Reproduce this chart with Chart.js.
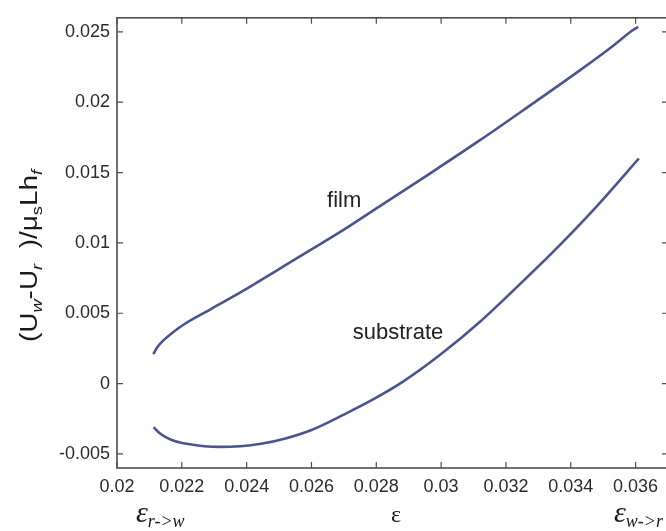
<!DOCTYPE html>
<html>
<head>
<meta charset="utf-8">
<script src="https://cdn.jsdelivr.net/npm/chart.js@4.4.0/dist/chart.umd.min.js"></script>
<style>
  html, body { margin: 0; padding: 0; background: #fff; overflow: hidden; }
  #wrap { width: 680px; height: 531px; }
</style>
</head>
<body>
<div id="wrap"><canvas id="plot"></canvas></div>
<script>
// values
const filmX = [0.02112, 0.02125, 0.0214, 0.0217, 0.02206, 0.0229, 0.0239, 0.0249, 0.0259, 0.0269, 0.0281, 0.0297, 0.0312, 0.0327, 0.0343, 0.0353, 0.0359, 0.03608]
const filmY = [0.0021, 0.0026, 0.0030, 0.0036, 0.0042, 0.0053, 0.0066, 0.0080, 0.0094, 0.0108, 0.0126, 0.0150, 0.0173, 0.0197, 0.0223, 0.0240, 0.0251, 0.02535]

const substrateX = [0.02113, 0.0213, 0.0215, 0.0218, 0.0222, 0.0227, 0.0232, 0.0238, 0.0244, 0.0252, 0.0260, 0.0270, 0.0280, 0.0288, 0.0300, 0.0312, 0.0324, 0.0336, 0.0348, 0.0361]
const substrateY = [-0.0031, -0.0035, -0.0038, -0.0041, -0.0043, -0.00445, -0.0045, -0.00445, -0.0043, -0.0039, -0.0033, -0.0022, -0.0010, 0.0001, 0.0021, 0.0044, 0.0070, 0.0097, 0.0126, 0.0160]

const xTicks = [0.02, 0.022, 0.024, 0.026, 0.028, 0.03, 0.032, 0.034, 0.036]
const xTickLabels = ['0.02', '0.022', '0.024', '0.026', '0.028', '0.03', '0.032', '0.034', '0.036']
const yTicks = [-0.005, 0, 0.005, 0.01, 0.015, 0.02, 0.025]
const yTickLabels = ['-0.005', '0', '0.005', '0.01', '0.015', '0.02', '0.025']

const lineColor = '#4a5590'
const axisColor = '#4d4d4d'
const textColor = '#2b2b2b'

function toPoints(xs, ys) {
    return xs.map((x, i) => ({ x: x, y: ys[i] }))
}

// white page behind the chart
const background = {
    id: 'background',
    beforeDraw(chart) {
        const ctx = chart.ctx
        ctx.save()
        ctx.fillStyle = '#fff'
        ctx.fillRect(0, 0, chart.width, chart.height)
        ctx.restore()
    }
}

// matlab style box with inward ticks on all four sides
const boxTicks = {
    id: 'boxTicks',
    afterDatasetsDraw(chart) {
        const ctx = chart.ctx
        const a = chart.chartArea
        const xs = chart.scales.x
        const ys = chart.scales.y
        const len = 6
        ctx.save()
        ctx.strokeStyle = axisColor
        ctx.lineWidth = 1.6
        ctx.strokeRect(a.left, a.top, a.right - a.left, a.bottom - a.top)
        ctx.lineWidth = 1.2
        ctx.beginPath()
        xTicks.forEach(v => {
            const px = xs.getPixelForValue(v)
            ctx.moveTo(px, a.bottom)
            ctx.lineTo(px, a.bottom - len)
            ctx.moveTo(px, a.top)
            ctx.lineTo(px, a.top + len)
        })
        yTicks.forEach(v => {
            const py = ys.getPixelForValue(v)
            ctx.moveTo(a.left, py)
            ctx.lineTo(a.left + len, py)
            ctx.moveTo(a.right, py)
            ctx.lineTo(a.right - len, py)
        })
        ctx.stroke()
        ctx.restore()
    }
}

// draws a run of text pieces, subscripts lowered and smaller
function drawPieces(ctx, pieces, x, y) {
    let cx = x
    pieces.forEach(p => {
        ctx.font = p.font
        ctx.fillText(p.t, cx, y + (p.dy || 0))
        cx += ctx.measureText(p.t).width
    })
}

function piecesWidth(ctx, pieces) {
    let w = 0
    pieces.forEach(p => {
        ctx.font = p.font
        w += ctx.measureText(p.t).width
    })
    return w
}

const labels = {
    id: 'labels',
    afterDraw(chart) {
        const ctx = chart.ctx
        const xs = chart.scales.x
        const ys = chart.scales.y
        ctx.save()
        ctx.fillStyle = '#222'
        ctx.textBaseline = 'middle'
        ctx.textAlign = 'center'
        ctx.font = '22px "Liberation Sans", Arial, sans-serif'
        ctx.fillText('film', xs.getPixelForValue(0.02701), ys.getPixelForValue(0.01296))
        ctx.fillText('substrate', xs.getPixelForValue(0.02867), ys.getPixelForValue(0.0036))

        // y axis title
        const big = '23px "Liberation Sans", Arial, sans-serif'
        const sub = 'italic 15px "Liberation Sans", Arial, sans-serif'
        const subUp = '15px "Liberation Sans", Arial, sans-serif'
        const yTitle = [
            { t: '(U', font: big },
            { t: 'w', font: sub, dy: 5 },
            { t: '-U', font: big },
            { t: 'r', font: sub, dy: 5 },
            { t: '  )/\u03bc', font: big },
            { t: 's', font: subUp, dy: 5 },
            { t: 'Lh', font: big },
            { t: 'f', font: sub, dy: 5 }
        ]
        ctx.textAlign = 'left'
        ctx.textBaseline = 'alphabetic'
        ctx.fillStyle = '#1a1a1a'
        const w = piecesWidth(ctx, yTitle)
        const stretch = 172 / w
        ctx.save()
        ctx.translate(37, 256)
        ctx.rotate(-Math.PI / 2)
        ctx.scale(stretch, 1)
        drawPieces(ctx, yTitle, -w / 2, 0)
        ctx.restore()

        // x axis title and the two end markers
        ctx.fillStyle = '#1a1a1a'
        ctx.textAlign = 'center'
        ctx.font = '24px "Liberation Serif", "Times New Roman", serif'
        ctx.fillText('\u03b5', 396, 522)

        ctx.textAlign = 'left'
        const epsBig = 'italic 30px "Liberation Serif", "Times New Roman", serif'
        const epsSub = 'italic 18px "Liberation Serif", "Times New Roman", serif'
        drawPieces(ctx, [
            { t: '\u03b5', font: epsBig },
            { t: 'r->w', font: epsSub, dy: 5 }
        ], 136, 522)
        drawPieces(ctx, [
            { t: '\u03b5', font: epsBig },
            { t: 'w->r', font: epsSub, dy: 5 }
        ], 614, 522)
        ctx.restore()
    }
}

const config = {
    type: 'scatter',
    data: {
        datasets: [{
            label: 'film',
            data: toPoints(filmX, filmY),
            showLine: true,
            borderColor: lineColor,
            borderWidth: 2.6,
            pointRadius: 0,
            cubicInterpolationMode: 'monotone'
        }, {
            label: 'substrate',
            data: toPoints(substrateX, substrateY),
            showLine: true,
            borderColor: lineColor,
            borderWidth: 2.6,
            pointRadius: 0,
            cubicInterpolationMode: 'monotone'
        }]
    },
    options: {
        responsive: true,
        maintainAspectRatio: false,
        animation: false,
        layout: {
            padding: { top: 6.5, right: 12, bottom: 0, left: 0 }
        },
        plugins: {
            legend: { display: false },
            tooltip: { enabled: false }
        },
        scales: {
            x: {
                type: 'linear',
                min: 0.02,
                max: 0.037,
                grid: { display: false, drawTicks: false },
                border: { display: false },
                afterBuildTicks: scale => {
                    scale.ticks = xTicks.map(v => ({ value: v }))
                },
                afterFit: scale => {
                    scale.height = 63
                },
                ticks: {
                    padding: 8,
                    maxRotation: 0,
                    autoSkip: false,
                    color: textColor,
                    font: { family: '"Liberation Sans", Arial, sans-serif', size: 18 },
                    callback: (value, index) => xTickLabels[index]
                }
            },
            y: {
                type: 'linear',
                min: -0.006,
                max: 0.026,
                grid: { display: false, drawTicks: false },
                border: { display: false },
                afterBuildTicks: scale => {
                    scale.ticks = yTicks.map(v => ({ value: v }))
                },
                afterFit: scale => {
                    scale.width = 117
                },
                ticks: {
                    padding: 7,
                    autoSkip: false,
                    color: textColor,
                    font: { family: '"Liberation Sans", Arial, sans-serif', size: 18 },
                    callback: (value, index) => yTickLabels[index]
                }
            }
        }
    },
    plugins: [background, boxTicks, labels]
}

myChart = new Chart(document.getElementById('plot'), config)
</script>
</body>
</html>
